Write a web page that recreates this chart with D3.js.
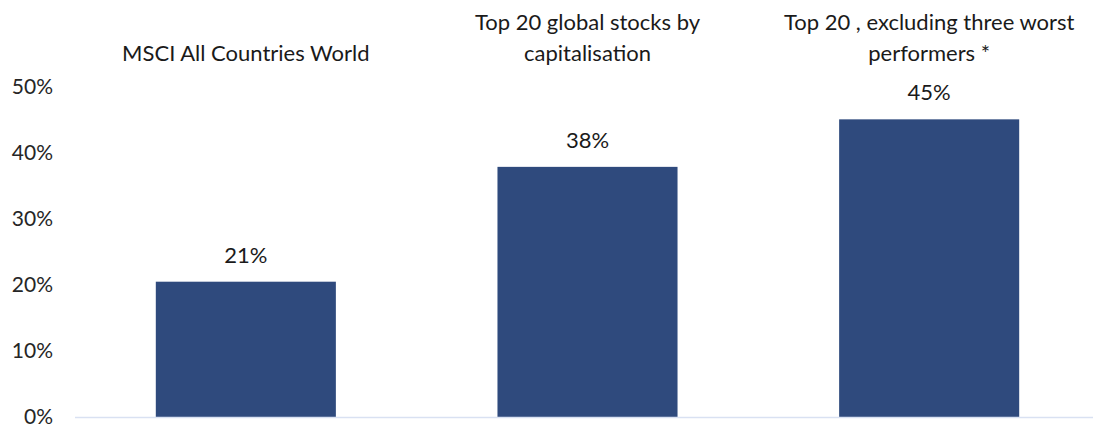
<!DOCTYPE html>
<html>
<head>
<meta charset="utf-8">
<title>Top 20 stocks</title>
<script src="https://cdn.jsdelivr.net/npm/d3@7"></script>
<style>
  body { margin: 0; background: #fff; }
  text { font-family: Lato, "Open Sans", sans-serif; }
</style>
</head>
<body>
<script>
// data
var categories = [
    ["MSCI All Countries World"],
    ["Top 20 global stocks by", "capitalisation"],
    ["Top 20 , excluding three worst", "performers *"]
];
var values = [20.5, 37.9, 45.1];
var valueLabels = ["21%", "38%", "45%"];
var yTicks = [0, 10, 20, 30, 40, 50];

var width = 1093, height = 425;
var plotLeft = 75, plotRight = 1100, plotTop = 87, plotBottom = 417;
var fontSize = "22px";

var svg = d3.select("body").append("svg")
    .attr("width", width)
    .attr("height", height);

var x = d3.scaleBand()
    .domain(d3.range(categories.length))
    .range([plotLeft, plotRight])
    .paddingInner(0.473)
    .paddingOuter(0.2365);

var y = d3.scaleLinear()
    .domain([0, 50])
    .range([plotBottom, plotTop]);

// y軸ラベル
var yAxis = d3.axisLeft(y)
    .tickValues(yTicks)
    .tickSize(0)
    .tickPadding(0)
    .tickFormat(function(d) { return d + "%"; });

var yg = svg.append("g")
    .attr("transform", "translate(53,0)")
    .call(yAxis);
yg.select(".domain").remove();
yg.selectAll("text")
    .style("font-family", "Lato, 'Open Sans', sans-serif")
    .style("font-size", "21px")
    .style("fill", "#262626");

// 棒
svg.selectAll("rect.bar")
    .data(values)
    .enter()
    .append("rect")
    .attr("class", "bar")
    .attr("x", function(d, i) { return x(i); })
    .attr("y", function(d) { return y(d); })
    .attr("width", x.bandwidth())
    .attr("height", function(d) { return y(0) - y(d); })
    .style("fill", "#2f4a7d");

// 基線
svg.append("line")
    .attr("x1", plotLeft)
    .attr("x2", width)
    .attr("y1", y(0) + 0.5)
    .attr("y2", y(0) + 0.5)
    .style("stroke", "#d9e1f2")
    .style("stroke-width", 1.5);

// 値ラベル
svg.selectAll("text.val")
    .data(values)
    .enter()
    .append("text")
    .attr("class", "val")
    .attr("x", function(d, i) { return x(i) + x.bandwidth() / 2; })
    .attr("y", function(d) { return y(d) - 19; })
    .attr("text-anchor", "middle")
    .style("font-size", fontSize)
    .style("fill", "#1a1a1a")
    .text(function(d, i) { return valueLabels[i]; });

// カテゴリ見出し
var cat = svg.selectAll("text.cat")
    .data(categories)
    .enter()
    .append("text")
    .attr("class", "cat")
    .attr("x", function(d, i) { return x(i) + x.bandwidth() / 2; })
    .attr("text-anchor", "middle")
    .style("font-size", fontSize)
    .style("fill", "#1a1a1a");

cat.selectAll("tspan")
    .data(function(d) { return d; })
    .enter()
    .append("tspan")
    .attr("x", function() { return d3.select(this.parentNode).attr("x"); })
    .attr("y", function(d, j, nodes) { return 61 - (nodes.length - 1 - j) * 31; })
    .text(function(d) { return d; });
</script>
</body>
</html>
